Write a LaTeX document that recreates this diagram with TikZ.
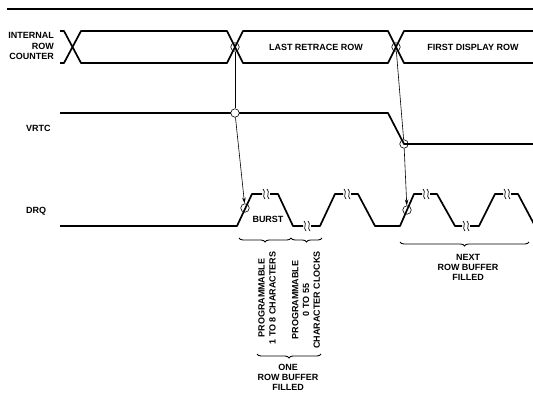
\documentclass[tikz,border=0pt]{standalone}
\usepackage{fontspec}
\setmainfont{Liberation Sans}
\usetikzlibrary{arrows.meta,decorations.pathreplacing}
\begin{document}
\begin{tikzpicture}[x=1pt,y=-1pt,
  sig/.style={line width=1.7pt,line join=round},
  circ/.style={circle,draw,line width=0.6pt,minimum size=8.5pt,inner sep=0pt},
  lbl/.style={font=\fontsize{9}{10.8}\selectfont\bfseries,inner sep=0pt},
  lbl2/.style={font=\fontsize{9}{10}\selectfont\bfseries,inner sep=0pt},
  brk/.style={line width=0.7pt},
  brc/.style={line width=0.9pt,decorate,decoration={brace,mirror,amplitude=4pt}},
  conn/.style={line width=0.6pt},
  arr/.style={line width=0.6pt,-{Stealth[length=6pt,width=3.5pt]}}]
\useasboundingbox (0,0) rectangle (533,396);
% top rule
\draw[line width=1.2pt] (7,9) -- (533,9);
% internal row counter bus
\draw[sig] (60,31) -- (64,31) -- (81,63) -- (227,63) -- (243,31) -- (388,31) -- (404,63) -- (533,63);
\draw[sig] (60,63) -- (64,63) -- (81,31) -- (227,31) -- (243,63) -- (388,63) -- (404,31) -- (533,31);
% VRTC
\draw[sig] (60,113) -- (388,113) -- (404,144) -- (533,144);
% DRQ
\begin{scope}
\clip (0,0) rectangle (533,396);
\draw[sig] (60,226) -- (237,226) -- (252,194) -- (262,194);
\draw[sig] (270,194) -- (278,194) -- (293,226) -- (303,226);
\draw[sig] (311,226) -- (320,226) -- (335,194) -- (343,194);
\draw[sig] (351,194) -- (358,194) -- (375,226) -- (400,226) -- (414,194) -- (422,194);
\draw[sig] (430,194) -- (437,194) -- (455,226) -- (462,226);
\draw[sig] (470,226) -- (479,226) -- (495,194) -- (503,194);
\draw[sig] (511,194) -- (518,194) -- (535,226);
\end{scope}
% break marks
\foreach \x/\y in {264/194,268/194,305/226,309/226,345/194,349/194,424/194,428/194,464/226,468/226,505/194,509/194}{
  \draw[brk] (\x-1,\y-5) .. controls (\x+2.5,\y-2) and (\x-2.5,\y+2) .. (\x+1,\y+5);
}
% circles
\node[circ] (x1) at (235,47) {};
\node[circ,fill=white] (v1) at (235,113) {};
\node[circ] (d1) at (245,208) {};
\node[circ] (x2) at (396,47) {};
\node[circ] (v2) at (404,144) {};
\node[circ] (d2) at (407,210) {};
% connectors
\draw[conn] (x1) -- (v1);
\draw[arr] (v1) -- (d1);
\draw[conn] (x2) -- (v2);
\draw[arr] (v2) -- (d2);
% labels
\node[lbl,align=right,anchor=east] (irc) at (54,46) {INTERNAL\\ROW\\COUNTER};
\node[lbl,anchor=west] (vrtc) at (26,128) {VRTC};
\node[lbl,anchor=west] (drq) at (26,211) {DRQ};
\node[lbl] (lrr) at (316,47) {LAST RETRACE ROW};
\node[lbl] (fdr) at (473,47) {FIRST DISPLAY ROW};
\node[lbl] (burst) at (268,219) {BURST};
% braces
\coordinate (b1a) at (239,238); \coordinate (b1b) at (291,238);
\coordinate (b2b) at (322,238);
\draw[brc] (b1a) -- (b1b);
\draw[brc] (b1b) -- (b2b);
\node[lbl,rotate=90,align=center] (p1) at (267,298) {PROGRAMMABLE\\1 TO 8 CHARACTERS};
\node[lbl,rotate=90,align=center] (p2) at (306,300) {PROGRAMMABLE\\0 TO 55\\CHARACTER CLOCKS};
\coordinate (b3a) at (257,354); \coordinate (b3b) at (321,354);
\draw[brc] (b3a) -- (b3b);
\node[lbl2,align=center] (one) at (288,377) {ONE\\ROW BUFFER\\FILLED};
\coordinate (b4a) at (400,242); \coordinate (b4b) at (529,242);
\draw[brc] (b4a) -- (b4b);
\node[lbl2,align=center] (next) at (468,267) {NEXT\\ROW BUFFER\\FILLED};
\end{tikzpicture}
\end{document}
